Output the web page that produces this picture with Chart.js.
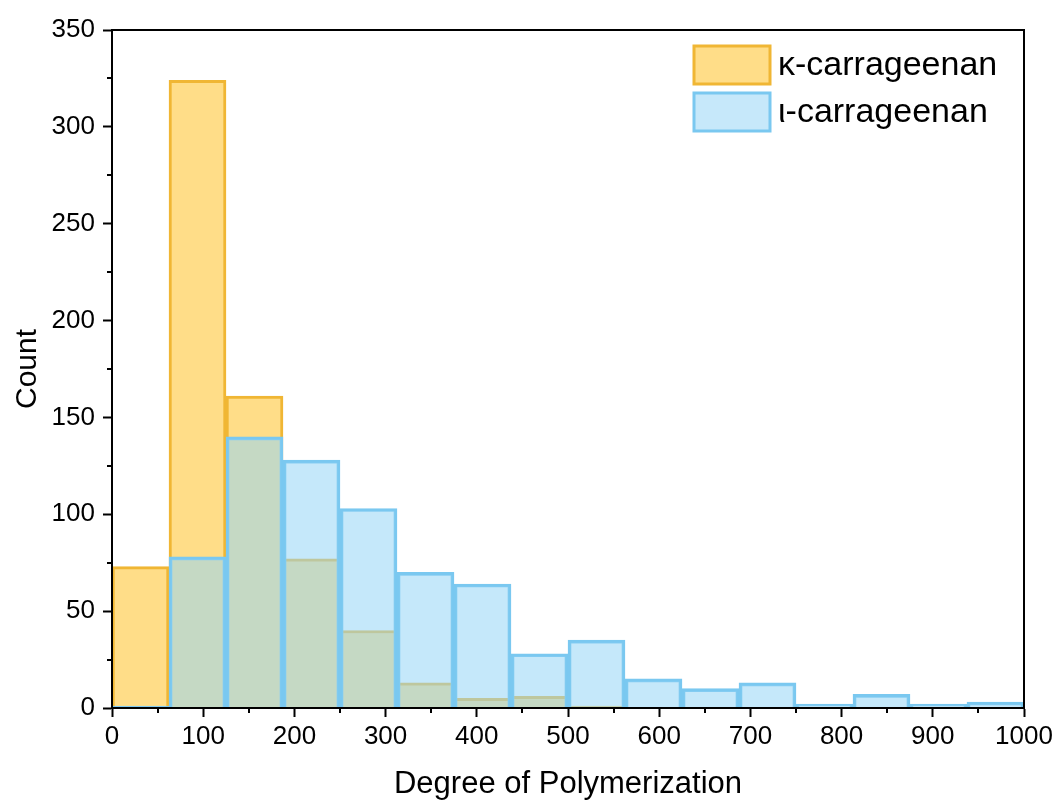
<!DOCTYPE html>
<html>
<head>
<meta charset="utf-8">
<script src="https://cdn.jsdelivr.net/npm/chart.js@4.4.1/dist/chart.umd.min.js"></script>
<style>
  html, body { margin: 0; padding: 0; background: #fff; }
  #wrap { width: 1061px; height: 803px; }
</style>
</head>
<body>
<div id="wrap"><canvas id="histo" width="1061" height="803"></canvas></div>
<script>
// histogram bins (Degree of Polymerization), width 62.5
const binWidth = 62.5;
const binStarts = [0, 62.5, 125, 187.5, 250, 312.5, 375, 437.5, 500, 562.5, 625, 687.5, 750, 812.5, 875, 937.5];
const kappaCounts = [73, 324, 161, 77, 40, 13, 5, 6, 1, 0, 0, 0, 0, 0, 0, 0];
const iotaCounts = [1, 78, 140, 128, 103, 70, 64, 28, 35, 15, 10, 13, 2, 7, 2, 3];
const seriesNames = ['\u03BA-carrageenan', '\u03B9-carrageenan'];

const FONT = 'Arial, "Liberation Sans", sans-serif';

function toPoints(counts) {
    return binStarts.map((s, i) => ({ x: s + binWidth / 2, y: counts[i] }));
}

// frame, minor ticks and legend drawn on top of the chart
const decor = {
    id: 'decor',
    afterDraw(chart) {
        const c = chart.ctx;
        const a = chart.chartArea;
        const xs = chart.scales.x, ys = chart.scales.y;
        c.save();
        c.strokeStyle = '#000';
        c.lineWidth = 2;
        c.strokeRect(a.left, a.top, a.right - a.left, a.bottom - a.top);
        // minor ticks
        c.beginPath();
        for (let v = 50; v < 1000; v += 100) {
            const px = Math.round(xs.getPixelForValue(v));
            c.moveTo(px, a.bottom);
            c.lineTo(px, a.bottom + 5);
        }
        for (let v = 25; v < 350; v += 50) {
            const py = Math.round(ys.getPixelForValue(v));
            c.moveTo(a.left, py);
            c.lineTo(a.left - 5, py);
        }
        c.stroke();

        // legend
        const lx = a.right - 330, ly = a.top + 16;
        chart.data.datasets.forEach((ds, i) => {
            const y = ly + i * 47;
            c.fillStyle = ds.legendFill;
            c.fillRect(lx, y, 76, 38);
            c.strokeStyle = ds.borderColor;
            c.lineWidth = 3;
            c.strokeRect(lx, y, 76, 38);
            c.fillStyle = '#000';
            c.font = '34px ' + FONT;
            c.textBaseline = 'middle';
            c.textAlign = 'left';
            c.fillText(ds.label, lx + 84, y + 20);
        });
        c.restore();
    }
};

const ctx = document.getElementById('histo').getContext('2d');
const chart = new Chart(ctx, {
    type: 'bar',
    data: {
        datasets: [{
            label: seriesNames[0],
            data: toPoints(kappaCounts),
            backgroundColor: 'rgb(255, 221, 136)',
            legendFill: 'rgb(255, 221, 136)',
            borderColor: 'rgb(240, 182, 52)',
            borderWidth: 3,
            order: 1
        }, {
            label: seriesNames[1],
            data: toPoints(iotaCounts),
            backgroundColor: 'rgba(150, 213, 246, 0.55)',
            legendFill: 'rgb(198, 232, 250)',
            borderColor: 'rgb(122, 200, 240)',
            borderWidth: 3,
            order: 0
        }]
    },
    options: {
        responsive: false,
        animation: false,
        layout: { padding: { left: 0, top: 30, right: 37, bottom: 0 } },
        datasets: {
            bar: { grouped: false, barPercentage: 1, categoryPercentage: 1 }
        },
        plugins: {
            legend: { display: false },
            tooltip: { enabled: false }
        },
        scales: {
            x: {
                type: 'linear',
                min: 0,
                max: 1000,
                offset: false,
                ticks: {
                    stepSize: 100, color: '#000', font: { family: FONT, size: 26 }, padding: 4,
                    maxRotation: 0, autoSkip: false,
                    callback: v => String(v)
                },
                grid: { offset: false, drawOnChartArea: false, tickLength: 9, tickColor: '#000', tickWidth: 2 },
                border: { color: '#000', width: 2 },
                title: { display: true, text: 'Degree of Polymerization', color: '#000', font: { family: FONT, size: 31 }, padding: { top: 0, bottom: 0 } },
                afterFit(scale) { scale.height = 95; }
            },
            y: {
                min: 0,
                max: 350,
                ticks: { stepSize: 50, color: '#000', font: { family: FONT, size: 26 }, padding: 8 },
                grid: { drawOnChartArea: false, tickLength: 9, tickColor: '#000', tickWidth: 2 },
                border: { color: '#000', width: 2 },
                title: { display: true, text: 'Count', color: '#000', font: { family: FONT, size: 30 }, padding: { top: 10, bottom: 0 } },
                afterFit(scale) { scale.width = 112; }
            }
        }
    },
    plugins: [decor]
});
</script>
</body>
</html>
